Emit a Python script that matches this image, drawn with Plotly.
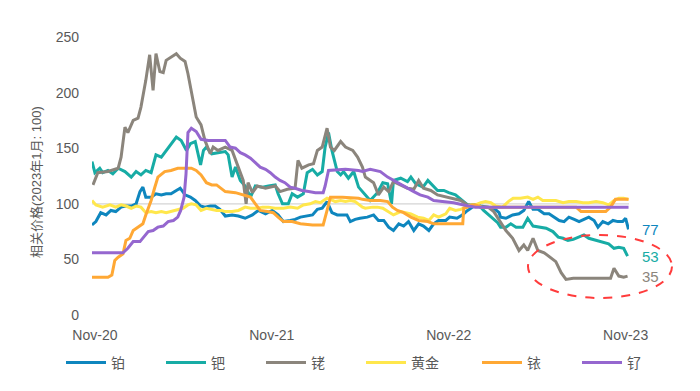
import plotly.graph_objects as go

# ---------------- data ----------------
series_names = ["铂", "钯", "铑", "黄金", "铱", "钌"]
series_colors = ["#0e86be", "#17aca5", "#8b857c", "#ffe74c", "#ffa834", "#9567cf"]

pt_dates = ["2020-10-26","2020-11-03","2020-11-13","2020-11-24","2020-12-04","2020-12-14","2020-12-25",
    "2021-01-04","2021-01-15","2021-01-25","2021-02-02","2021-02-08","2021-02-14","2021-02-25","2021-03-07",
    "2021-03-18","2021-03-28","2021-04-07","2021-04-18","2021-04-26","2021-05-06","2021-05-17","2021-05-27",
    "2021-06-07","2021-06-16","2021-06-27","2021-07-07","2021-07-17","2021-07-28","2021-08-11","2021-08-24",
    "2021-09-07","2021-09-22","2021-10-04","2021-10-19","2021-11-02","2021-11-14","2021-11-25","2021-12-09",
    "2021-12-19","2021-12-30","2022-01-13","2022-01-24","2022-02-03","2022-02-13","2022-02-23","2022-03-05",
    "2022-03-16","2022-04-05","2022-04-12","2022-04-22","2022-05-02","2022-05-17","2022-05-30","2022-06-09",
    "2022-06-20","2022-06-30","2022-07-10","2022-07-21","2022-07-31","2022-08-10","2022-08-21","2022-08-31",
    "2022-09-10","2022-09-21","2022-10-01","2022-10-11","2022-10-26","2022-11-03","2022-11-18","2022-11-29",
    "2022-12-10","2022-12-20","2022-12-26","2023-01-06","2023-01-21","2023-02-02","2023-02-13","2023-02-16",
    "2023-02-27","2023-03-13","2023-03-26","2023-04-05","2023-04-15","2023-04-24","2023-05-04","2023-05-17",
    "2023-05-27","2023-06-06","2023-06-17","2023-06-27","2023-07-07","2023-07-18","2023-07-28","2023-08-07",
    "2023-08-17","2023-08-28","2023-09-05","2023-09-15","2023-09-26","2023-10-06","2023-10-16","2023-10-26",
    "2023-11-01","2023-11-07"]
pt_values = [81,84,92,90,94,93,97,
    98,98,100,111,115,106,106,109,
    108,109,109,112,114,108,106,103,
    98,97,98,98,95,89,90,89,
    87,90,94,91,94,90,84,85,
    86,88,89,90,95,96,102,92,
    90,90,84,86,87,88,90,85,
    85,79,76,82,80,84,76,82,
    80,76,82,85,85,88,87,90,
    94,97,99,98,97,96,92,88,
    87,90,91,94,102,95,95,91,
    91,88,85,84,88,86,84,86,
    88,85,79,84,82,85,84,84,
    87,77]

pd_dates = ["2020-10-26","2020-11-01","2020-11-11","2020-11-17","2020-11-28","2020-12-08","2020-12-19",
    "2021-01-02","2021-01-15","2021-01-25","2021-02-04","2021-02-14","2021-02-25","2021-03-07","2021-03-18",
    "2021-03-28","2021-04-05","2021-04-12","2021-04-18","2021-04-28","2021-05-09","2021-05-17","2021-05-27",
    "2021-06-07","2021-06-13","2021-06-19","2021-06-30","2021-07-13","2021-07-28","2021-08-03","2021-08-11",
    "2021-08-18","2021-08-28","2021-09-07","2021-09-18","2021-09-28","2021-10-13","2021-10-25","2021-11-08",
    "2021-11-14","2021-11-23","2021-12-05","2021-12-13","2021-12-24","2022-01-05","2022-01-13","2022-01-24",
    "2022-02-03","2022-02-13","2022-02-19","2022-02-26","2022-03-05","2022-03-16","2022-03-23","2022-03-29",
    "2022-04-08","2022-04-19","2022-04-29","2022-05-07","2022-05-13","2022-05-23","2022-06-07","2022-06-18",
    "2022-06-28","2022-07-06","2022-07-10","2022-07-25","2022-08-08","2022-08-15","2022-08-25","2022-09-09",
    "2022-09-19","2022-09-29","2022-10-09","2022-10-22","2022-11-01","2022-11-15","2022-11-30","2022-12-10",
    "2022-12-23","2023-01-02","2023-01-12","2023-01-27","2023-02-10","2023-02-16","2023-02-27","2023-03-09",
    "2023-03-20","2023-04-03","2023-04-13","2023-04-24","2023-05-06","2023-05-21","2023-06-04","2023-06-15",
    "2023-06-25","2023-07-05","2023-07-16","2023-07-27","2023-08-07","2023-08-17","2023-09-01","2023-09-15",
    "2023-09-27","2023-10-08","2023-10-18","2023-10-28","2023-11-05"]
pd_values = [138,128,132,128,130,127,132,
    129,124,129,126,130,128,144,142,
    148,153,157,160,157,148,154,156,
    135,148,151,145,146,147,144,124,
    133,121,116,106,116,115,116,117,
    109,100,100,109,106,109,128,131,
    126,129,151,164,148,129,126,129,
    123,129,115,111,108,103,110,119,
    118,100,121,123,120,124,118,115,
    121,116,112,112,110,108,103,99,
    99,99,94,88,83,79,79,82,
    79,79,87,80,79,78,75,70,
    69,67,68,70,72,69,67,65,
    64,60,61,60,53]

rh_dates = ["2020-10-28","2020-11-07","2020-11-28","2020-12-19","2020-12-25","2021-01-02","2021-01-08",
    "2021-01-19","2021-01-29","2021-02-04","2021-02-14","2021-02-22","2021-03-01","2021-03-07","2021-03-15",
    "2021-03-22","2021-03-28","2021-04-07","2021-04-18","2021-04-26","2021-05-06","2021-05-12","2021-05-23",
    "2021-05-29","2021-06-08","2021-06-16","2021-06-27","2021-07-03","2021-07-13","2021-07-28","2021-08-11",
    "2021-08-24","2021-09-03","2021-09-09","2021-09-13","2021-09-22","2021-10-02","2021-10-19","2021-11-08",
    "2021-11-18","2021-12-03","2021-12-19","2021-12-25","2022-01-02","2022-01-16","2022-01-26","2022-02-03",
    "2022-02-13","2022-02-23","2022-03-02","2022-03-10","2022-03-23","2022-04-02","2022-04-17","2022-04-27",
    "2022-05-07","2022-05-13","2022-05-30","2022-06-09","2022-06-20","2022-06-30","2022-07-10","2022-07-25",
    "2022-08-08","2022-08-21","2022-08-31","2022-09-10","2022-09-25","2022-10-09","2022-10-30","2022-11-11",
    "2022-11-26","2022-12-10","2022-12-23","2023-01-06","2023-01-21","2023-02-02","2023-02-13","2023-02-27",
    "2023-03-13","2023-03-26","2023-04-05","2023-04-13","2023-04-24","2023-05-04","2023-05-17","2023-05-31",
    "2023-06-10","2023-06-21","2023-07-01","2023-07-16","2023-09-01","2023-10-01","2023-10-08","2023-10-18",
    "2023-10-28","2023-11-05"]
rh_values = [117,128,129,132,142,169,164,
    175,177,187,211,234,202,235,219,
    218,229,232,235,231,228,217,193,
    178,171,157,145,151,148,151,148,
    133,121,100,119,110,116,114,116,
    111,113,114,139,132,135,136,148,
    151,168,151,148,156,151,148,142,
    133,124,119,108,115,111,120,117,
    114,113,121,114,112,108,106,105,
    103,99,99,97,97,93,85,76,
    69,58,63,58,69,58,56,51,
    48,38,32,33,33,33,42,35,
    34,35]

au_dates = ["2020-10-26","2020-11-03","2020-11-17","2020-12-02","2020-12-14","2020-12-25","2021-01-04",
    "2021-01-15","2021-01-25","2021-02-04","2021-02-14","2021-02-25","2021-03-07","2021-03-18","2021-03-28",
    "2021-04-07","2021-04-18","2021-05-02","2021-05-12","2021-05-19","2021-05-29","2021-06-08","2021-06-19",
    "2021-06-30","2021-07-10","2021-07-20","2021-07-28","2021-08-11","2021-08-24","2021-09-07","2021-09-18",
    "2021-10-02","2021-10-13","2021-10-25","2021-11-08","2021-11-25","2021-12-09","2021-12-24","2022-01-05",
    "2022-01-19","2022-01-30","2022-02-09","2022-02-16","2022-02-23","2022-03-02","2022-03-12","2022-03-23",
    "2022-04-02","2022-04-12","2022-04-22","2022-05-07","2022-05-13","2022-05-28","2022-06-07","2022-06-18",
    "2022-06-28","2022-07-10","2022-07-25","2022-08-04","2022-08-15","2022-08-29","2022-09-10","2022-09-21",
    "2022-10-01","2022-10-11","2022-10-26","2022-11-03","2022-11-15","2022-11-26","2022-12-06","2022-12-16",
    "2022-12-26","2023-01-06","2023-01-16","2023-01-27","2023-02-06","2023-02-20","2023-03-04","2023-03-14",
    "2023-03-29","2023-04-13","2023-04-24","2023-05-04","2023-05-14","2023-05-27","2023-06-10","2023-06-25",
    "2023-07-07","2023-07-22","2023-08-05","2023-08-17","2023-09-01","2023-09-15","2023-09-27","2023-10-08",
    "2023-10-18","2023-10-28","2023-11-07"]
au_values = [103,99,97,99,97,99,98,
    96,98,97,92,93,92,93,92,
    93,94,96,99,100,99,94,96,
    95,94,94,93,93,94,97,96,
    96,97,97,96,96,97,96,99,
    100,102,101,103,105,104,102,103,
    102,103,102,97,96,97,97,96,
    93,90,93,92,91,88,87,85,
    90,88,91,96,94,95,97,99,
    99,101,102,101,98,97,102,105,
    105,106,104,106,103,103,103,101,
    102,102,101,101,102,101,99,103,
    105,105,104]

ir_dates = ["2020-10-26","2020-11-28","2020-12-06","2020-12-12","2020-12-19","2020-12-29","2021-01-04",
    "2021-01-12","2021-01-19","2021-01-29","2021-02-08","2021-02-14","2021-02-25","2021-03-04","2021-03-11",
    "2021-03-25","2021-04-07","2021-04-21","2021-05-19","2021-05-29","2021-06-08","2021-06-19","2021-06-30",
    "2021-07-10","2021-07-20","2021-07-28","2021-08-18","2021-09-01","2021-09-18","2021-09-28","2021-10-08",
    "2021-10-23","2021-11-04","2021-11-14","2021-11-25","2021-12-13","2021-12-30","2022-01-24","2022-02-15",
    "2022-02-23","2022-03-02","2022-03-27","2022-04-29","2022-05-07","2022-05-23","2022-06-13","2022-06-28",
    "2022-07-08","2022-07-18","2022-07-31","2022-08-15","2022-08-31","2022-09-19","2022-10-01","2022-11-30",
    "2022-12-02","2022-12-10","2022-12-20","2022-12-26","2023-01-09","2023-02-10","2023-07-22","2023-08-01",
    "2023-09-21","2023-10-01","2023-10-11","2023-11-07"]
ir_values = [34,34,36,49,52,55,67,
    69,76,79,82,90,103,114,124,
    129,130,132,132,130,126,119,117,
    117,114,111,110,108,106,100,94,
    93,92,88,84,84,82,81,81,
    94,106,106,105,104,103,103,102,
    97,94,92,88,85,84,82,82,
    96,97,99,99,97,97,97,93,
    93,97,104,104]

ru_dates = ["2020-10-26","2020-12-29","2021-01-08","2021-01-19","2021-02-02","2021-02-08","2021-02-19",
    "2021-03-01","2021-03-11","2021-03-22","2021-04-01","2021-04-12","2021-04-21","2021-04-27","2021-05-04",
    "2021-05-08","2021-05-12","2021-05-19","2021-05-29","2021-06-08","2021-06-23","2021-07-28","2021-08-07",
    "2021-08-18","2021-08-28","2021-09-07","2021-09-18","2021-09-28","2021-10-08","2021-10-19","2021-10-29",
    "2021-11-08","2021-11-18","2021-11-28","2021-12-09","2021-12-19","2022-01-02","2022-01-16","2022-01-30",
    "2022-02-15","2022-02-19","2022-02-26","2022-04-02","2022-04-29","2022-05-07","2022-05-23","2022-06-13",
    "2022-06-28","2022-07-10","2022-07-25","2022-08-08","2022-08-21","2022-09-03","2022-09-19","2022-10-01",
    "2022-10-22","2022-11-11","2022-12-02","2022-12-26","2023-11-07"]
ru_values = [56,56,60,66,66,69,75,
    76,79,80,84,85,88,94,106,
    127,164,168,165,158,157,157,151,
    150,146,144,141,137,133,131,128,
    124,121,119,115,114,112,111,110,
    110,116,130,131,130,129,131,129,
    124,121,117,114,111,108,106,103,
    102,101,99,97,97]

y_ticks = [0, 50, 100, 150, 200, 250]
x_ticks = ["2020-11-01", "2021-11-01", "2022-11-01", "2023-11-01"]
x_ticklabels = ["Nov-20", "Nov-21", "Nov-22", "Nov-23"]
y_title = "相关价格(2023年1月: 100)"
labelled = ["铂", "钯", "铑"]

all_dates = [pt_dates, pd_dates, rh_dates, au_dates, ir_dates, ru_dates]
all_values = [pt_values, pd_values, rh_values, au_values, ir_values, ru_values]

# ---------------- figure ----------------
FONT = "Liberation Sans, Arial, Noto Sans CJK SC, sans-serif"
GREY = "#595959"
OFF = 8                      # page offset of the figure (default body margin)
W, H = 700 - OFF, 391 - OFF  # figure size
# plot area edges expressed in page pixels, converted to figure margins
PL, PR, PT, PB = 92, 629, 37, 315
ML, MR, MT, MB = PL - OFF, (700 - PR), PT - OFF, (391 - PB)
pw, ph = PR - PL, PB - PT

fig = go.Figure()
legend_x_px = [61, 161, 261, 361, 477, 577]   # page px
for i, (name, col, d, v) in enumerate(zip(series_names, series_colors, all_dates, all_values)):
    lg = "legend" if i == 0 else f"legend{i+1}"
    fig.add_trace(go.Scatter(x=d, y=v, mode="lines", name=name,
                             line=dict(color=col, width=3), legend=lg,
                             hoverinfo="skip"))

legends = {}
for i, px in enumerate(legend_x_px):
    key = "legend" if i == 0 else f"legend{i+1}"
    legends[key] = dict(x=(px - OFF) / W, y=1 - (363 - OFF) / H, xref="container", yref="container",
                        xanchor="left", yanchor="middle", orientation="h",
                        font=dict(family=FONT, size=14, color=GREY),
                        bgcolor="rgba(0,0,0,0)", itemwidth=40, tracegroupgap=0)

fig.update_layout(width=W, height=H,
                  margin=dict(l=ML, r=MR, t=MT, b=MB, autoexpand=False),
                  paper_bgcolor="white", plot_bgcolor="white",
                  font=dict(family=FONT, size=14, color=GREY),
                  showlegend=True, **legends)

fig.update_xaxes(range=["2020-10-26", "2023-11-08"], tickvals=x_ticks, ticktext=x_ticklabels,
                 showgrid=False, showline=False, zeroline=False, ticks="", automargin=False,
                 tickfont=dict(family=FONT, size=14, color=GREY), ticklabelstandoff=10)
fig.update_yaxes(range=[0, 250], tickvals=y_ticks, showgrid=False, showline=False,
                 zeroline=False, ticks="", automargin=False,
                 tickfont=dict(family=FONT, size=14, color=GREY), ticklabelstandoff=12)

# reference line at 100
fig.add_shape(type="line", xref="paper", x0=0, x1=1, yref="y", y0=100, y1=100,
              line=dict(color="#d4d4d4", width=1.2), layer="below")

# y axis title
fig.add_annotation(text=y_title, textangle=-90, xref="paper", yref="paper",
                   x=(36 - PL) / pw, y=(PB - 182) / ph, showarrow=False,
                   font=dict(family=FONT, size=13, color=GREY), xanchor="center", yanchor="middle")

# end-value labels
for name in labelled:
    i = series_names.index(name)
    last = all_values[i][-1]
    fig.add_annotation(text=str(last), xref="paper", yref="y",
                       x=(650 - PL) / pw, y=last, showarrow=False,
                       font=dict(family=FONT, size=15, color=series_colors[i]),
                       xanchor="center", yanchor="middle")

# red dashed ellipse highlight
fig.add_shape(type="circle", xref="paper", yref="paper",
              x0=(528 - PL) / pw, x1=(672 - PL) / pw,
              y0=(PB - 298) / ph, y1=(PB - 235) / ph,
              line=dict(color="#ff3c3c", width=2, dash="dash"))

fig.write_html("out.html")
